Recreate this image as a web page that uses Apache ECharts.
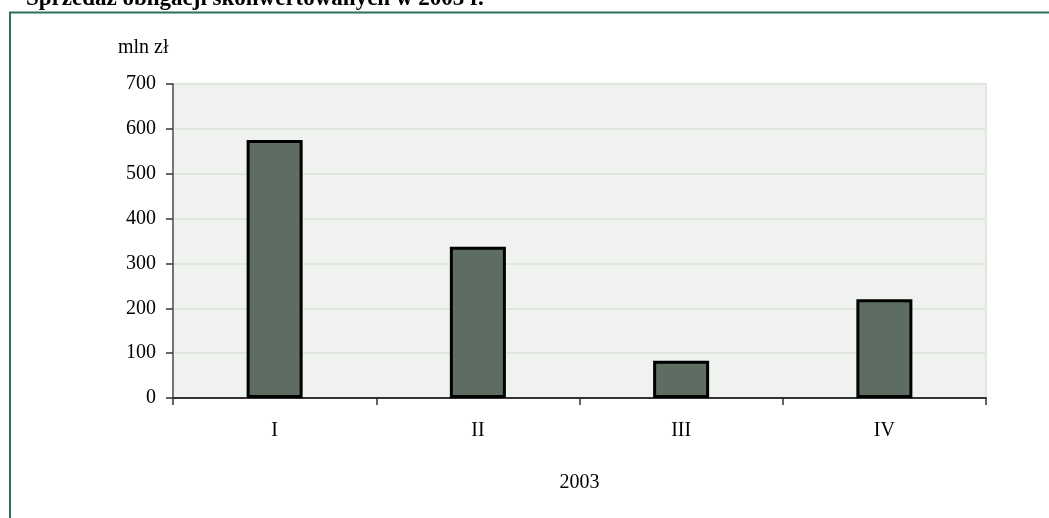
<!DOCTYPE html>
<html>
<head>
<meta charset="utf-8">
<script src="https://cdn.jsdelivr.net/npm/echarts@6/dist/echarts.min.js"></script>
<style>html,body{margin:0;padding:0;background:#fff}#c{width:1049px;height:518px}</style>
</head>
<body>
<div id="c"></div>
<script>
const categories = ['I', 'II', 'III', 'IV'];
const values = [575, 337, 83, 220];
const yTicks = [0, 100, 200, 300, 400, 500, 600, 700];
const titleText = 'Sprzedaż obligacji skonwertowanych w 2003 r.';
const yUnit = 'mln zł';
const xName = '2003';

const FONT = '"Liberation Serif", "DejaVu Serif", serif';
const chart = echarts.init(document.getElementById('c'), null, {renderer: 'canvas'});
chart.setOption({
  animation: false,
  backgroundColor: '#ffffff',
  graphic: [
    {type: 'rect', shape: {x: 10, y: 12.5, width: 1100, height: 600}, style: {fill: 'none', stroke: '#2f6f5c', lineWidth: 2}, z: 100},
    {type: 'text', left: 26, top: -12, style: {text: titleText, font: 'bold 23px ' + FONT, fill: '#000'}},
    {type: 'text', left: 118, top: 38, style: {text: yUnit, font: '20px ' + FONT, fill: '#000'}}
  ],
  grid: {left: 173, right: 63, top: 84, bottom: 120, show: true, backgroundColor: '#f0f2ef', borderColor: '#e3e7e1', borderWidth: 2},
  xAxis: {
    type: 'category', data: categories, boundaryGap: true,
    name: xName, nameLocation: 'middle', nameGap: 75,
    nameTextStyle: {fontFamily: FONT, fontSize: 20, color: '#000'},
    axisLine: {lineStyle: {color: '#333', width: 2}},
    axisTick: {show: true, alignWithLabel: false, length: 7, lineStyle: {color: '#333', width: 1.5}},
    axisLabel: {fontFamily: FONT, fontSize: 20, color: '#000', margin: 23}
  },
  yAxis: {
    type: 'value', min: 0, max: 700, interval: 100,
    axisLine: {show: true, lineStyle: {color: '#6f786f', width: 2}},
    axisTick: {show: true, length: 7, lineStyle: {color: '#333', width: 1.5}},
    axisLabel: {fontFamily: FONT, fontSize: 20, color: '#000', margin: 17,
      formatter: v => yTicks.includes(v) ? String(v) : ''},
    splitLine: {show: true, lineStyle: {color: '#dfe6db', width: 2}}
  },
  series: [{
    type: 'bar', data: values, barWidth: 56,
    itemStyle: {color: '#5e6d61', borderColor: '#000', borderWidth: 3}
  }]
});
</script>
</body>
</html>
